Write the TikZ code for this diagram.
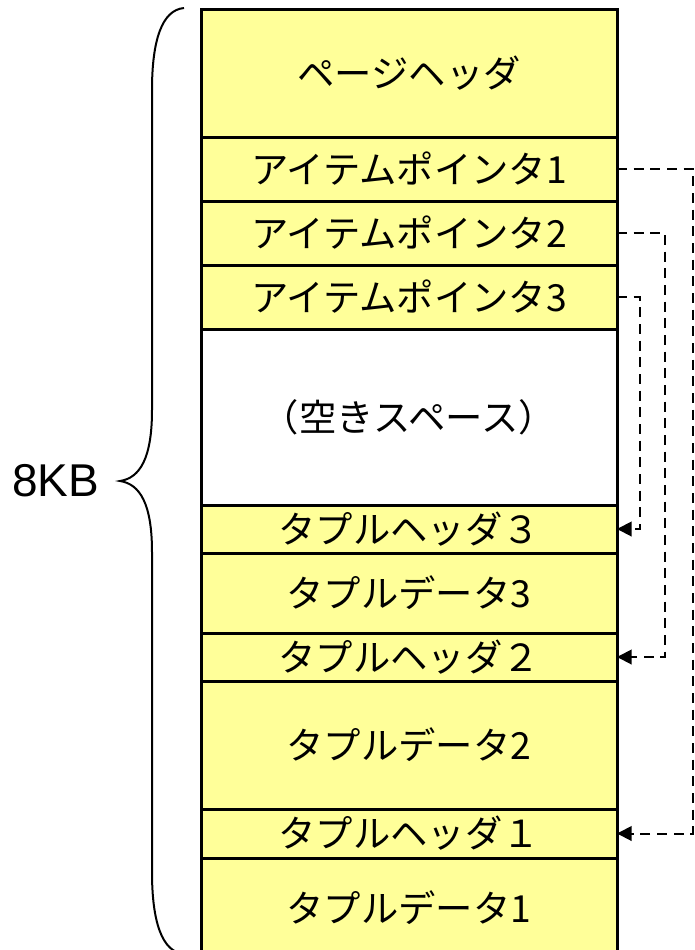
\documentclass[tikz,border=0pt]{standalone}
\usepackage{fontspec}
\setmainfont{Liberation Sans}
\newfontfamily\jp{Noto Sans CJK JP}
\usepackage{tikz}
\usetikzlibrary{arrows.meta}

\definecolor{cellyellow}{RGB}{255,255,153}

\tikzset{
    cell/.style={draw=black, fill=cellyellow, line width=2.25pt, inner sep=0pt, outer sep=0pt,
        minimum width=312pt, font=\jp\fontsize{28}{30}\selectfont},
    link/.style={line width=1.5pt, dash pattern=on 7.5pt off 5pt, -{Triangle[length=11pt, width=11pt]}}
}

\begin{document}
\begin{tikzpicture}[x=0.75pt, y=-0.75pt]
    \useasboundingbox (0, 0) rectangle (694, 950);

    % draw page rows
    \node[cell, minimum height=96pt] (hdr) at (409, 73) {ページヘッダ};
    \node[cell, minimum height=48pt] (ptr1) at (409, 169) {アイテムポインタ1};
    \node[cell, minimum height=48pt] (ptr2) at (409, 233) {アイテムポインタ2};
    \node[cell, minimum height=48pt] (ptr3) at (409, 297) {アイテムポインタ3};
    \node[cell, fill=white, minimum height=132pt] (free) at (409, 417) {（空きスペース）};
    \node[cell, minimum height=36pt] (th3) at (409, 529) {タプルヘッダ３};
    \node[cell, minimum height=60pt] (td3) at (409, 593) {タプルデータ3};
    \node[cell, minimum height=36pt] (th2) at (409, 657) {タプルヘッダ２};
    \node[cell, minimum height=96pt] (td2) at (409, 745) {タプルデータ2};
    \node[cell, minimum height=36.75pt] (th1) at (409, 833.5) {タプルヘッダ１};
    \node[cell, minimum height=75pt] (td1) at (409, 908) {タプルデータ1};

    % draw pointers
    \draw[link] (ptr1.east) -- ++(76, 0) |- (th1.east);
    \draw[link] (ptr2.east) -- ++(48, 0) |- (th2.east);
    \draw[link] (ptr3.east) -- ++(23, 0) |- (th3.east);

    % draw size brace
    \draw[line width=1.5pt] (184, 8) .. controls (162, 10) and (152, 40) .. (152, 90) -- (152, 410)
        .. controls (152, 458) and (140, 478) .. (120, 481)
        .. controls (140, 484) and (152, 504) .. (152, 552) -- (152, 872)
        .. controls (152, 922) and (162, 952) .. (184, 954);
    \node[font=\fontsize{34.5}{40}\selectfont, anchor=east] (size) at (104, 481) {8KB};
\end{tikzpicture}
\end{document}
